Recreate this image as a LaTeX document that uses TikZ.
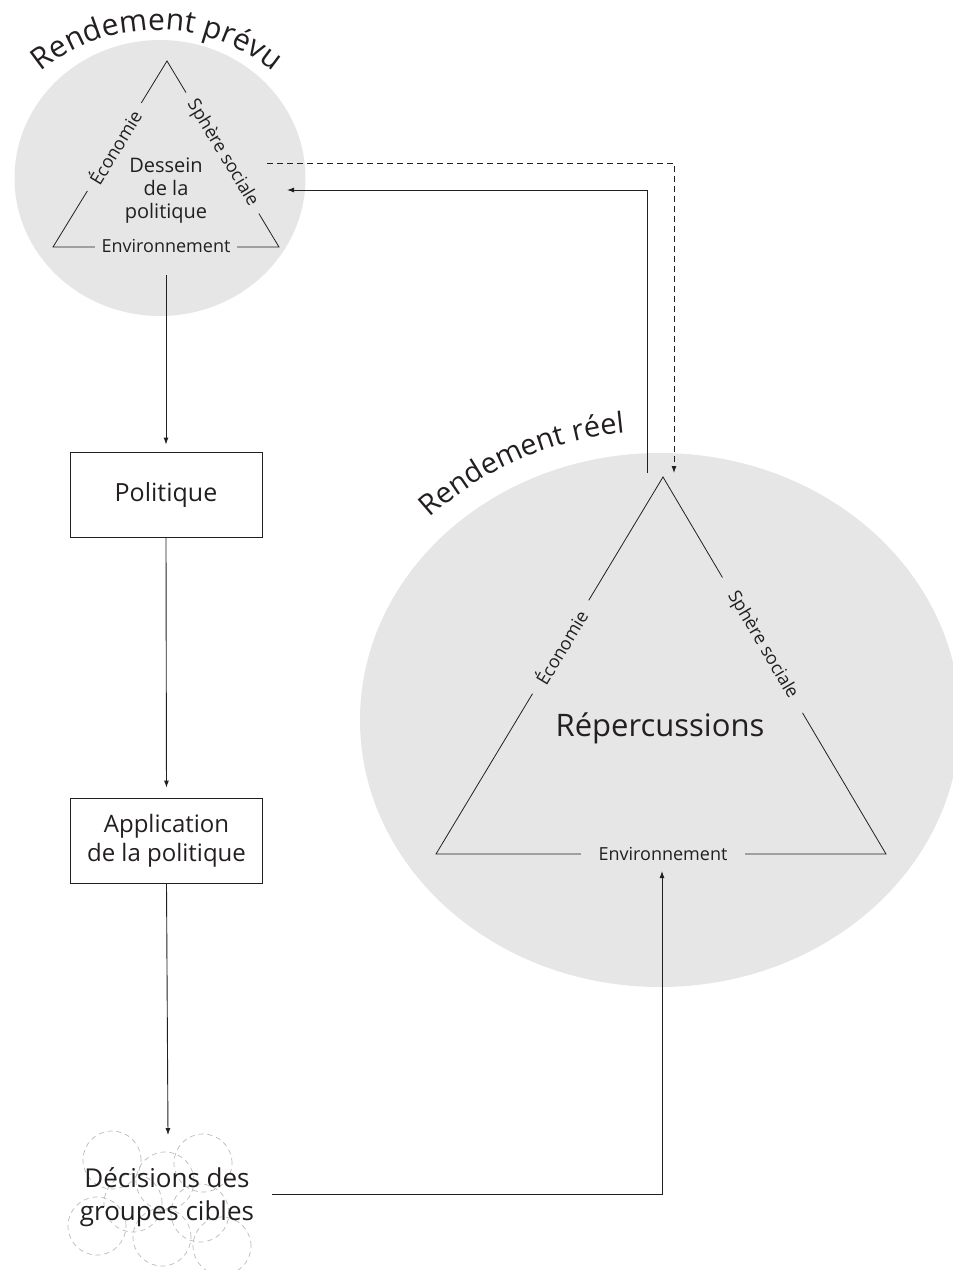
\documentclass[tikz,border=0pt]{standalone}
\usepackage{fontspec}
\setmainfont{Open Sans}
\usetikzlibrary{arrows.meta,decorations.text,shapes.geometric,calc}
\definecolor{circ}{RGB}{230,230,230}
\definecolor{ink}{RGB}{35,31,32}
\definecolor{cloud}{RGB}{185,185,185}
\newcommand\myfs[2]{\fontsize{#1}{#2}\selectfont}
\begin{document}
\begin{tikzpicture}[x=1pt,y=1pt,
  every node/.style={text=ink},
  conn/.style={draw=ink, line width=0.9pt, -{Latex[length=7pt,width=5pt]}},
  boxnode/.style={draw=ink, line width=0.9pt, minimum width=192pt, minimum height=85pt, align=center, inner sep=0pt},
  edgelbl/.style={fill=circ, inner ysep=1pt, inner xsep=10pt, font=\myfs{18}{20}},
  tri/.style={draw=ink, line width=0.8pt},
  cloudc/.style={draw=cloud, dash pattern=on 5pt off 4pt, line width=0.7pt},
  blob/.style={ellipse, fill=circ, inner sep=0pt}
]
\useasboundingbox (0,0) rectangle (953,-1270);

% shaded areas
\node[blob, minimum width=291pt, minimum height=276pt] (prevu) at (160,-178) {};
\node[blob, minimum width=600pt, minimum height=534pt] (reel) at (660,-720) {};

% curved titles
\path[decorate, decoration={text along path, text align=center,
  text={|\myfs{30}{35}\color{ink}|Rendement prévu}}]
  (157,-212) ++(129:182) arc[start angle=129, end angle=51, radius=182];
\path[decorate, decoration={text along path, text align=center,
  text={|\myfs{29}{34}\color{ink}|Rendement réel}}]
  (660,-720) ++({322*cos(138)},{289*sin(138)}) arc[start angle=138, end angle=94, x radius=322, y radius=289];

% top triangle
\coordinate (pA) at (167,-61);
\coordinate (pL) at (53,-247);
\coordinate (pR) at (279,-247);
\draw[tri] (pA) -- (pL) -- (pR) -- cycle;
\node[edgelbl, rotate=58.5] (pEco) at ($(pL)!0.538!(pA)$) {Économie};
\node[edgelbl, rotate=-58.9] (pSoc) at ($(pA)!0.495!(pR)$) {Sphère sociale};
\node[edgelbl, inner xsep=7pt] (pEnv) at (166,-246) {Environnement};
\node[align=center, font=\myfs{20}{23}] (dessein) at (166,-191) {Dessein\\de la\\politique};

% big triangle
\coordinate (rA) at (663,-477);
\coordinate (rL) at (436,-854);
\coordinate (rR) at (886,-854);
\draw[tri] (rA) -- (rL) -- (rR) -- cycle;
\node[edgelbl, inner xsep=13pt, rotate=58.9] (rEco) at ($(rL)!0.549!(rA)$) {Économie};
\node[edgelbl, inner xsep=18pt, rotate=-59.4] (rSoc) at ($(rA)!0.446!(rR)$) {Sphère sociale};
\node[edgelbl, inner xsep=18pt] (rEnv) at (663,-854) {Environnement};
\node[font=\myfs{31}{36}] (reperc) at (660,-728) {Répercussions};

% boxes
\node[boxnode, font=\myfs{25}{29}] (pol) at (166,-494.5) {Politique};
\node[boxnode, font=\myfs{24}{29}] (app) at (166.5,-840.5) {Application\\de la politique};

% target group clouds
\foreach \cx/\cy in {112/1160, 165/1181, 203/1163, 97/1226, 133/1203, 162/1237, 200/1213, 222/1246}
  \draw[cloudc] (\cx,-\cy) circle[radius=29];
\node[align=center, font=\myfs{26}{33}] (dec) at (167,-1197) {Décisions des\\groupes cibles};

% connector end points
\coordinate (p1) at (166,-275);
\coordinate (d1) at (168,-1135);
\coordinate (d2) at (272,-1194);
\coordinate (e1) at (662,-871);
\coordinate (s1) at (647,-473);
\coordinate (s2) at (287,-190);
\coordinate (t1) at (267,-163);
\coordinate (t2) at (674,-473);

% connectors
\draw[conn, shorten >=7pt] (p1) -- (pol.north);
\draw[conn, shorten >=10pt] (pol.south) -- (app.north);
\draw[conn] (app.south) -- (d1);
\draw[conn] (d2) -| (e1);
\draw[conn] (s1) |- (s2);
\draw[conn, dash pattern=on 6pt off 4pt] (t1) -| (t2);
\end{tikzpicture}
\end{document}
